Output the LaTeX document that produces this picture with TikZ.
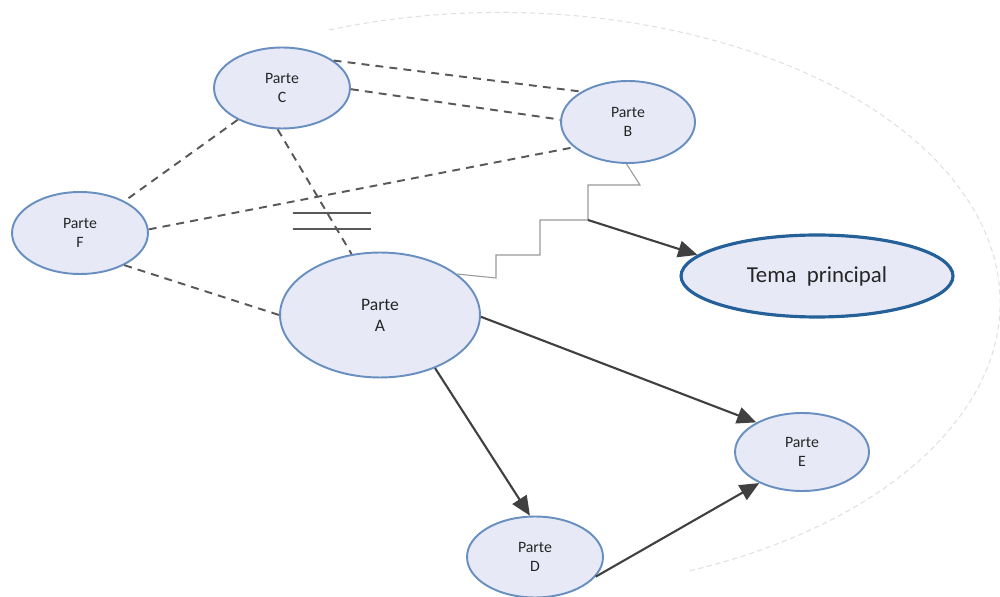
\documentclass[tikz,border=0pt]{standalone}
\usepackage{fontspec}
\setmainfont{Carlito}
\usetikzlibrary{shapes.geometric,arrows.meta}
\definecolor{partefill}{RGB}{231,233,246}
\definecolor{parteline}{RGB}{104,143,192}
\definecolor{temaline}{RGB}{38,96,152}
\definecolor{linkgray}{RGB}{88,88,88}
\tikzset{
	parte/.style={ellipse, draw=parteline, line width=1.1pt, fill=partefill, align=center, inner sep=0pt,
		text=black!85, font=\fontsize{9}{11}\selectfont, minimum width=2.72cm, minimum height=1.62cm},
	tema/.style={parte, draw=temaline, line width=1.8pt, font=\fontsize{13}{15}\selectfont,
		minimum width=5.44cm, minimum height=1.64cm},
	link/.style={draw=linkgray, line width=1.1pt, dash pattern=on 4.5pt off 3.5pt},
	flow/.style={draw=black!75, line width=1.2pt, -{Triangle[length=11pt,width=9.5pt]}},
	cutmark/.style={draw=black!65, line width=1.1pt},
	steps/.style={draw=black!40, line width=0.6pt}
}
\begin{document}
\begin{tikzpicture}[x=0.02cm, y=-0.02cm]
		\useasboundingbox (0, 0) rectangle (1000, 597);
		% faint outline behind the map
		\draw[black!12, line width=0.6pt, densely dashed] (329, 30) arc[start angle=-110, end angle=68, x radius=500, y radius=290];

		\node[parte] (C) at (282, 88) {Parte\\C};
		\node[parte, minimum width=2.68cm, minimum height=1.64cm] (B) at (628, 122) {Parte\\B};
		\node[parte, minimum height=1.64cm] (F) at (80, 233) {Parte\\F};
		\node[parte, font=\fontsize{10}{12}\selectfont, minimum width=4cm, minimum height=2.5cm] (A) at (380, 315) {Parte\\A};
		\node[tema] (T) at (817, 276) {Tema\ \ principal};
		\node[parte, minimum width=2.68cm, minimum height=1.56cm] (E) at (802, 452) {Parte\\E};
		\node[parte] (D) at (535, 557) {Parte\\D};

		% dashed links
		\draw[link] (C.28) -- (B.147);
		\draw[link] (C.-1) -- (B.178);
		\draw[link] (C) -- (F);
		\draw[link] (F.3) -- (B.205);
		\draw[link] (F.-36) -- (A.180);
		\draw[link] (C.264) -- coordinate[pos=0.73] (cut) (A.115);
		\draw[cutmark] ([shift={(-39, -7)}]cut) -- ([shift={(39, -7)}]cut);
		\draw[cutmark] ([shift={(-39, 9)}]cut) -- ([shift={(39, 9)}]cut);

		% stepped line from B down to A
		\draw[steps] (B.268) -- (640, 185) -- (588, 185) -- (588, 220) coordinate (bend) -- (540, 220) -- (540, 255) -- (496, 255) -- (496, 278) -- (A.28);
		\draw[flow] (bend) -- (T.170);

		% arrows
		\draw[flow] (A.-1) -- (E.147);
		\draw[flow] (A.-44) -- (D.97);
		\draw[flow] (D.-18) -- (E.216);
	\end{tikzpicture}
\end{document}
